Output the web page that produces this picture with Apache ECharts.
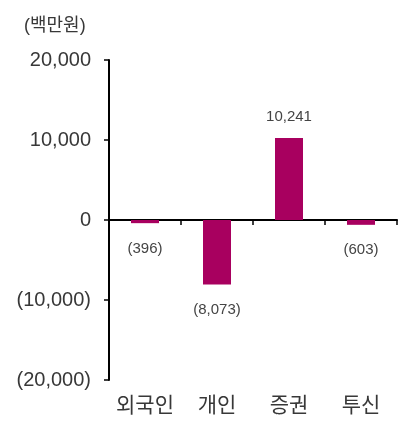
<!DOCTYPE html>
<html><head><meta charset="utf-8">
<script src="https://cdn.jsdelivr.net/npm/echarts@6/dist/echarts.min.js"></script>
<style>html,body{margin:0;padding:0;background:#fff}#c{width:403px;height:421px}</style>
</head><body><div id="c"></div>
<script>
const categories = ['외국인', '개인', '증권', '투신'];
const values = [-396, -8073, 10241, -603];
const unitLabel = '(백만원)';
const yMin = -20000, yMax = 20000, yStep = 10000;

function fmt(v) {
  const s = Math.abs(v).toLocaleString('en-US');
  return v < 0 ? '(' + s + ')' : s;
}
const font = "'Liberation Sans', 'Noto Sans CJK KR', sans-serif";
const chart = echarts.init(document.getElementById('c'), null, {renderer: 'canvas'});
chart.setOption({
  animation: false,
  textStyle: {fontFamily: font},
  title: {text: unitLabel, left: 19, top: 12, textStyle: {fontSize: 18, fontWeight: 'normal', color: '#383838', fontFamily: font}},
  grid: {left: 109, right: 6, top: 60, bottom: 41},
  xAxis: [{
    type: 'category', data: categories,
    axisLine: {onZero: true, lineStyle: {color: '#000', width: 2}},
    axisTick: {show: true, length: 5, lineStyle: {color: '#000', width: 1.5}},
    axisLabel: {show: false}
  }, {
    type: 'category', data: categories, position: 'bottom',
    axisLine: {show: false, onZero: false},
    axisTick: {show: false},
    axisLabel: {show: true, interval: 0, fontSize: 21, color: '#383838', margin: 16, fontFamily: font}
  }],
  yAxis: {
    type: 'value', min: yMin, max: yMax, interval: yStep,
    axisLine: {show: true, lineStyle: {color: '#000', width: 2}},
    axisTick: {show: true, length: 5, lineStyle: {color: '#000', width: 1.5}},
    splitLine: {show: false},
    axisLabel: {formatter: fmt, fontSize: 20, color: '#383838', margin: 18, fontFamily: font}
  },
  series: [{
    type: 'bar', xAxisIndex: 0, barWidth: 28,
    data: values.map(v => ({value: v, label: {position: v < 0 ? 'bottom' : 'top', distance: v < 0 ? 18 : 14}})),
    itemStyle: {color: '#A8005F'},
    label: {
      show: true, fontSize: 15, color: '#444', fontFamily: font,
      formatter: p => fmt(p.value)
    }
  }]
});
</script></body></html>
